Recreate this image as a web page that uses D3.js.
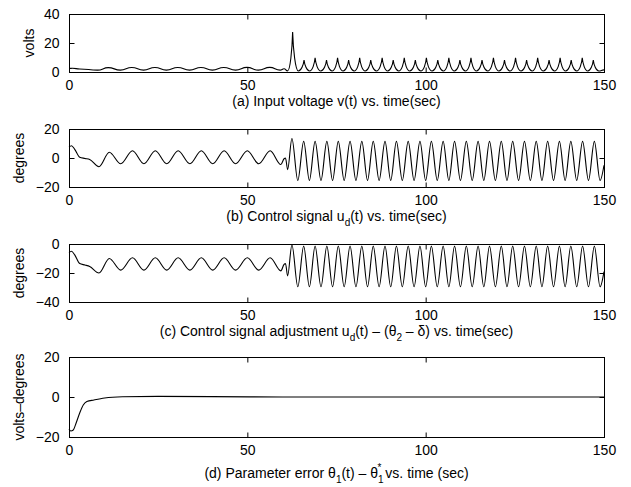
<!DOCTYPE html>
<html lang="en">
<head>
<meta charset="UTF-8"/>
<title>Input voltage, control signal and parameter error</title>
<script src="https://d3js.org/d3.v7.min.js"></script>
<style>
  body { margin: 0; background: #fff; }
  svg text { font-family: "Liberation Sans", Arial, Helvetica, sans-serif; fill: #000; }
</style>
</head>
<body>
<div id="chart"></div>
<script>

// time axis
var xTicks = [0, 50, 100, 150];

// (a) input voltage v(t), volts
var aT = [0, 1, 3, 8, 11, 14.4, 17.6, 20.9, 24.1, 27.3, 30.5, 33.8, 37, 40.2, 43.4, 46.7, 49.9, 53.1, 56.3, 59.2, 60.3, 61.3,
  62.7, 64.3, 65.9, 67.45, 69.0, 70.6, 72.2, 73.75, 75.3, 76.85, 78.4, 79.95, 81.5, 83.05, 84.6, 86.2, 87.8, 89.35, 90.9,
  92.45, 94.0, 95.55, 97.1, 98.65, 100.2, 101.8, 103.4, 104.95, 106.5, 108.05, 109.6, 111.15, 112.7, 114.25, 115.8,
  117.4, 119.0, 120.55, 122.1, 123.65, 125.2, 126.75, 128.3, 129.85, 131.4, 133.0, 134.6, 136.15, 137.7, 139.25, 140.8,
  142.35, 143.9, 145.45, 147.0, 148.55, 150];
var aV = [2.4, 2.6, 2.1, 1.3, 3.0, 1.3, 3.1, 1.3, 3.1, 1.3, 3.1, 1.3, 3.1, 1.3, 3.1, 1.3, 3.2, 1.3, 3.2, 1.3, 2.2, 0.8,
  27.5, 0.7, 8.3, 0.7, 9.8, 0.7, 8.3, 0.7, 9.8, 0.7, 8.3, 0.7, 9.8, 0.7, 8.3, 0.7, 9.8, 0.7, 8.3,
  0.7, 9.8, 0.7, 8.3, 0.7, 9.8, 0.7, 8.3, 0.7, 9.8, 0.7, 8.3, 0.7, 9.8, 0.7, 8.3,
  0.7, 9.8, 0.7, 8.3, 0.7, 9.8, 0.7, 8.3, 0.7, 9.8, 0.7, 8.3, 0.7, 9.8, 0.7, 8.3,
  0.7, 9.8, 0.7, 8.3, 0.7, 1.5];

// (b) control signal u_d(t), degrees
var bT = [0, 0.7, 1.6, 3, 4.5, 5.8, 8.4, 11.3, 14.5, 17.8, 21, 24.2, 27.4, 30.6, 33.9, 37.1, 40.3, 43.5, 46.7, 50, 53.2,
  56.4, 59.4, 60.3, 60.7, 61.3, 62.5, 64.15, 65.8, 67.4, 69.0, 70.65, 72.3, 73.9, 75.5, 77.15, 78.8, 80.45, 82.1, 83.7,
  85.3, 86.95, 88.6, 90.2, 91.8, 93.45, 95.1, 96.75, 98.4, 100.0, 101.6, 103.25, 104.9, 106.5, 108.1, 109.75, 111.4,
  113.05, 114.7, 116.3, 117.9, 119.55, 121.2, 122.8, 124.4, 126.05, 127.7, 129.35, 131.0, 132.6, 134.2, 135.85, 137.5,
  139.1, 140.7, 142.35, 144.0, 145.65, 147.3, 148.9, 150];
var bV = [7.5, 8.5, 6, 0.5, -0.3, -1, -6, 4, -4, 5, -4, 5, -4, 5, -4, 5, -4, 5, -4, 5, -4,
  5, -4.5, -0.5, 0, -8, 13.5, -15.5, 11.5, -15.5, 11.5, -15.5, 11.5, -15.5, 11.5, -15.5, 11.5, -15.5, 11.5, -15.5,
  11.5, -15.5, 11.5, -15.5, 11.5, -15.5, 11.5, -15.5, 11.5, -15.5, 11.5, -15.5, 11.5, -15.5, 11.5, -15.5, 11.5,
  -15.5, 11.5, -15.5, 11.5, -15.5, 11.5, -15.5, 11.5, -15.5, 11.5, -15.5, 11.5, -15.5, 11.5, -15.5, 11.5,
  -15.5, 11.5, -15.5, 11.5, -15.5, 11.5, -15.5, -5];

// (c) control signal adjustment, degrees
var cT = bT;
var cV = [-6, -5, -7.5, -13.5, -14.5, -15.5, -20, -10, -18, -9.5, -18, -9.5, -18, -9.5, -18, -9.5, -18, -9.5, -18, -9.5, -18,
  -9.5, -18.5, -14, -13.5, -22, -0.5, -29.5, -1.5, -29.5, -1.5, -29.5, -1.5, -29.5, -1.5, -29.5, -1.5, -29.5, -1.5, -29.5,
  -1.5, -29.5, -1.5, -29.5, -1.5, -29.5, -1.5, -29.5, -1.5, -29.5, -1.5, -29.5, -1.5, -29.5, -1.5, -29.5, -1.5,
  -29.5, -1.5, -29.5, -1.5, -29.5, -1.5, -29.5, -1.5, -29.5, -1.5, -29.5, -1.5, -29.5, -1.5, -29.5, -1.5,
  -29.5, -1.5, -29.5, -1.5, -29.5, -1.5, -29.5, -19];

// (d) parameter error, volts-degrees
var dT = [0, 0.5, 1.2, 2, 3, 4, 5, 7, 10, 15, 25, 40, 60, 150];
var dV = [-16, -17, -16.5, -13, -8, -4, -2.3, -1.5, -0.5, 0.1, 0.3, 0.2, 0, 0];

var w = 631, h = 487;
var xLeft = 69, xRight = 604;

var x = d3.scaleLinear().domain([0, 150]).range([xLeft, xRight]);

var panels = [
  {t: aT, v: aV, top: 14, bottom: 72, domain: [0, 40], ticks: [0, 20, 40], label: "volts", labelX: 29, cusp: true,
   caption: [["(a) Input voltage v(t) vs. time(sec)"]], capGap: 34},
  {t: bT, v: bV, top: 129, bottom: 187, domain: [-20, 20], ticks: [-20, 0, 20], label: "degrees", labelX: 19,
   caption: [["(b) Control signal u"], ["d", "sub"], ["(t) vs. time(sec)"]], capGap: 34},
  {t: cT, v: cV, top: 244, bottom: 302, domain: [-40, 0], ticks: [-40, -20, 0], label: "degrees", labelX: 19,
   caption: [["(c) Control signal adjustment u"], ["d", "sub"], ["(t) \u2013 (\u03b8"], ["2", "sub"], [" \u2013 \u03b4) vs. time(sec)"]], capGap: 34},
  {t: dT, v: dV, top: 357, bottom: 437, domain: [-20, 20], ticks: [-20, 0, 20], label: "volts\u2013degrees", labelX: 19,
   caption: [["(d) Parameter error \u03b8"], ["1", "sub"], ["(t) \u2013 \u03b8"], ["1", "sub"], ["*", "sup"], [" vs. time (sec)"]], capGap: 41}
];

// big rises bow like a cusp; small wiggles stay smooth
function cuspCurve(context) {
  var x0, y0, n;
  return {
    areaStart: function() {}, areaEnd: function() {},
    lineStart: function() { n = 0; },
    lineEnd: function() {},
    point: function(px, py) {
      if (n++ === 0) {
        context.moveTo(px, py);
      } else {
        var dx = px - x0;
        if (Math.abs(py - y0) < 4) {
          context.bezierCurveTo(x0 + dx * 0.5, y0, px - dx * 0.5, py, px, py);
        } else if (py < y0) {
          context.bezierCurveTo(x0 + dx * 0.5, y0, px - dx * 0.1, py + (y0 - py) * 0.45, px, py);
        } else {
          context.bezierCurveTo(x0 + dx * 0.1, y0 + (py - y0) * 0.45, px - dx * 0.5, py, px, py);
        }
      }
      x0 = px; y0 = py;
    }
  };
}

var svg = d3.select("#chart")
  .append("svg")
  .attr("width", w)
  .attr("height", h);

panels.forEach(function(p) {
  var y = d3.scaleLinear().domain(p.domain).range([p.bottom, p.top]);
  var g = svg.append("g");

  var line = d3.line()
    .x(function(d, i) { return x(p.t[i]); })
    .y(function(d) { return y(d); })
    .curve(p.cusp ? cuspCurve : d3.curveMonotoneX);

  g.append("path")
    .datum(p.v)
    .attr("d", line)
    .attr("fill", "none")
    .attr("stroke", "#000")
    .attr("stroke-width", 1.1);

  // box
  g.append("rect")
    .attr("x", xLeft + 0.5)
    .attr("y", p.top + 0.5)
    .attr("width", xRight - xLeft)
    .attr("height", p.bottom - p.top)
    .attr("fill", "none")
    .attr("stroke", "#000")
    .attr("stroke-width", 1);

  // inward ticks, matlab style
  var bottomAxis = d3.axisBottom(x).tickValues(xTicks).tickSizeInner(-5).tickSizeOuter(0).tickPadding(8);
  var ga = g.append("g").attr("transform", "translate(0," + (p.bottom + 0.5) + ")").call(bottomAxis);
  var topAxis = d3.axisTop(x).tickValues(xTicks).tickSizeInner(-5).tickSizeOuter(0).tickFormat("");
  var gt = g.append("g").attr("transform", "translate(0," + (p.top + 0.5) + ")").call(topAxis);
  var leftAxis = d3.axisLeft(y).tickValues(p.ticks).tickSizeInner(-5).tickSizeOuter(0).tickPadding(10)
    .tickFormat(function(d) { return d < 0 ? "\u2212" + Math.abs(d) : d; });
  var gl = g.append("g").attr("transform", "translate(" + (xLeft + 0.5) + ",0)").call(leftAxis);
  var rightAxis = d3.axisRight(y).tickValues(p.ticks).tickSizeInner(-5).tickSizeOuter(0).tickFormat("");
  var gr = g.append("g").attr("transform", "translate(" + (xRight + 0.5) + ",0)").call(rightAxis);

  [ga, gt, gl, gr].forEach(function(a) {
    a.select(".domain").remove();
    a.selectAll("text").attr("font-size", 14).style("font-family", "Liberation Sans, Arial, sans-serif");
    a.selectAll("line").attr("stroke", "#000");
  });

  // y label
  g.append("text")
    .attr("transform", "translate(" + p.labelX + "," + ((p.top + p.bottom) / 2) + ") rotate(-90)")
    .attr("text-anchor", "middle")
    .attr("dy", "0.35em")
    .attr("font-size", 14)
    .text(p.label);

  // caption with sub/superscripts
  var cap = g.append("text")
    .attr("x", (xLeft + xRight) / 2)
    .attr("y", p.bottom + p.capGap)
    .attr("text-anchor", "middle")
    .attr("font-size", 14);
  var shift = 0;
  p.caption.forEach(function(seg) {
    var ts = cap.append("tspan").text(seg[0]);
    if (seg[1] === "sub") {
      ts.attr("dy", 5 - shift).attr("font-size", 10);
      shift = 5;
    } else if (seg[1] === "sup") {
      ts.attr("dy", -7 - shift).attr("dx", -6).attr("font-size", 10);
      shift = -7;
    } else {
      ts.attr("dy", -shift);
      shift = 0;
    }
  });
});

</script>
</body>
</html>
